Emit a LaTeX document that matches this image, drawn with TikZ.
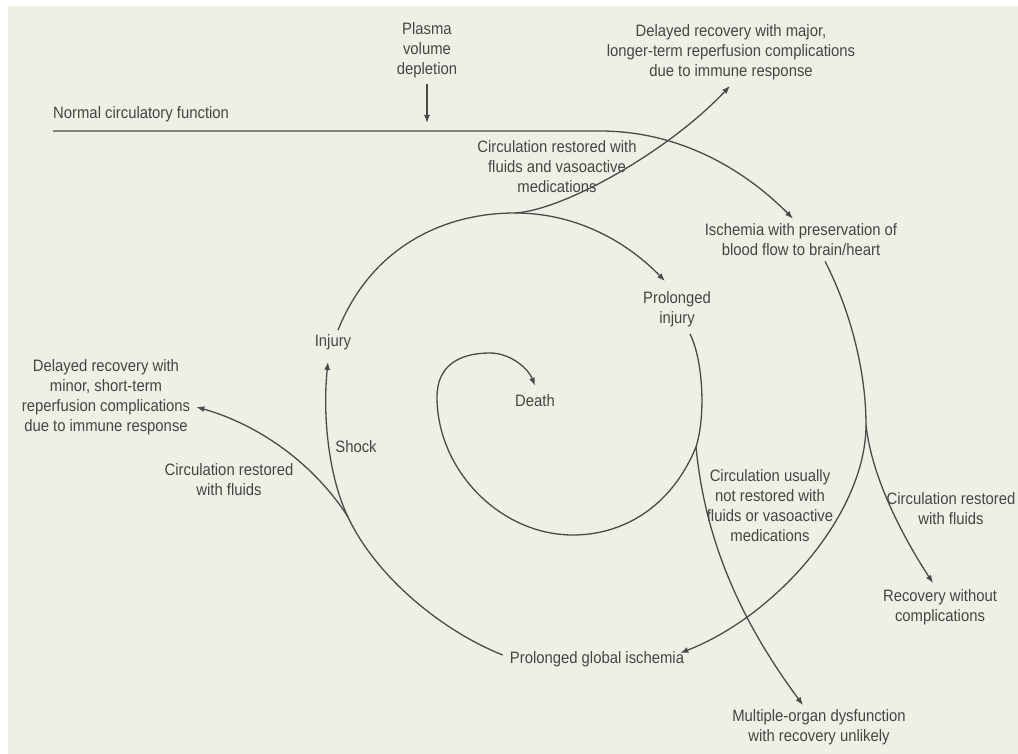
\documentclass[tikz,border=0pt]{standalone}
\usepackage{fontspec}
\setmainfont[FakeStretch=0.9]{Liberation Sans}
\usetikzlibrary{arrows.meta,calc}
\definecolor{paper}{HTML}{F0EFE5}
\definecolor{ink}{HTML}{4A4A4A}
\definecolor{txt}{HTML}{454545}
\begin{document}
\begin{tikzpicture}[x=1pt,y=-1pt,
  lbl/.style={inner sep=0pt,align=center,text=txt,font=\fontsize{16.5}{20}\selectfont},
  flow/.style={draw=ink,line width=1.3pt},
  tip/.style={flow,-{Latex[length=8pt,width=6pt]}}]
% page and paper
\fill[white] (0,0) rectangle (1018,754);
\fill[paper] (8,6) rectangle (1018,754);
\useasboundingbox (0,0) rectangle (1018,754);

% labels
\node[lbl] (plasma) at (427,50) {Plasma\\volume\\depletion};
\node[lbl,anchor=west] (normal) at (53,114) {Normal circulatory function};
\node[lbl] (major) at (731,52) {Delayed recovery with major,\\longer-term reperfusion complications\\due to immune response};
\node[lbl] (fluvaso) at (557,167) {Circulation restored with\\fluids and vasoactive\\medications};
\node[lbl] (isch) at (801,240) {Ischemia with preservation of\\blood flow to brain/heart};
\node[lbl] (proinj) at (677,309) {Prolonged\\injury};
\node[lbl] (injury) at (333,342) {Injury};
\node[lbl] (death) at (535,401) {Death};
\node[lbl] (shock) at (356,447) {Shock};
\node[lbl] (minor) at (106,397) {Delayed recovery with\\minor, short-term\\reperfusion complications\\due to immune response};
\node[lbl] (fluleft) at (229,480) {Circulation restored\\with fluids};
\node[lbl] (glob) at (597,659) {Prolonged global ischemia};
\node[lbl] (notrest) at (770,506) {Circulation usually\\not restored with\\fluids or vasoactive\\medications};
\node[lbl] (fluright) at (951,509) {Circulation restored\\with fluids};
\node[lbl] (recov) at (940,607) {Recovery without\\complications};
\node[lbl] (mod) at (819,727) {Multiple-organ dysfunction\\with recovery unlikely};

% branch points of the spiral
\coordinate (n0) at (53,131);
\coordinate (n1) at (600,131);
\coordinate (sOut) at (866,425);
\coordinate (sLeft) at (348,517);
\coordinate (sTop) at (515,213);
\coordinate (sIn) at (696,447);
\coordinate (inBot) at (573,535);
\coordinate (inLeft) at (437,397);
\coordinate (inTop) at (490,353);

% plasma volume depletion
\draw[tip] ($(plasma.south)+(0,6)$) -- ($(n0 -| plasma.south)+(0,-8)$);

% normal circulatory function into ischemia
\draw[tip] (n0) -- (n1) .. controls (690,131) and (755,180) .. ($(isch.north)+(-8,-5)$);

% ischemia: outer turn
\draw[flow] ($(isch.south)+(24,5)$) .. controls (850,310) and (866,370) .. (sOut);
\draw[tip] (sOut) .. controls (866,512) and (778,615) .. ($(glob.east)+(-4,-6)$);
\draw[tip] (sOut) .. controls (872,480) and (905,540) .. ($(recov.north)+(-7,-6)$);

% prolonged global ischemia back to injury
\draw[flow] ($(glob.west)+(-7,-4)$) .. controls (440,630) and (375,575) .. (sLeft);
\draw[tip] (sLeft) .. controls (330,480) and (322,420) .. ($(injury.south)+(-5,12)$);
\draw[tip] (sLeft) .. controls (315,465) and (260,425) .. ($(minor.east)+(6,10)$);

% injury: middle turn
\draw[flow] ($(injury.north)+(5,-4)$) .. controls (370,250) and (440,213) .. (sTop);
\draw[tip] (sTop) .. controls (580,213) and (630,245) .. ($(proinj.north)+(-12,-10)$);
\draw[tip] (sTop) .. controls (565,210) and (670,150) .. ($(major.south)+(-1,6)$);

% prolonged injury: inner turn
\draw[flow] ($(proinj.south)+(13,7)$) .. controls (703,360) and (706,415) .. (sIn);
\draw[flow] (sIn) .. controls (670,510) and (620,535) .. (inBot)
  .. controls (500,535) and (437,470) .. (inLeft)
  .. controls (437,365) and (460,353) .. (inTop);
\draw[tip] (inTop) .. controls (510,353) and (528,368) .. ($(death.north)+(0,-9)$);
\draw[tip] (sIn) .. controls (705,540) and (740,620) .. ($(mod.north)+(-16,-4)$);
\end{tikzpicture}
\end{document}
